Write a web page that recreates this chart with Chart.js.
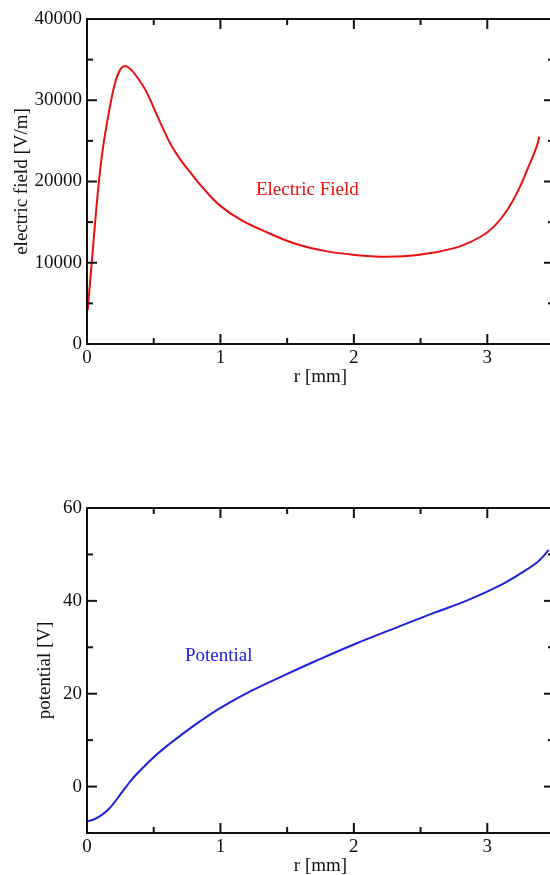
<!DOCTYPE html>
<html><head><meta charset="utf-8">
<script src="https://cdn.jsdelivr.net/npm/chart.js@4.4.1/dist/chart.umd.min.js"></script>
<style>
html,body{margin:0;padding:0;overflow:hidden;background:#fff;width:550px;height:875px;position:relative;}
#c1{position:absolute;left:0;top:0;}
#c2{position:absolute;left:0;top:450px;}
</style></head><body>
<canvas id="c1" width="560" height="400"></canvas>
<canvas id="c2" width="560" height="440"></canvas>
<script>
// ---- data ----
const rField = [0.005,0.035,0.06,0.09,0.12,0.165,0.21,0.25,0.285,0.32,0.36,0.43,0.47,0.51,0.57,0.63,0.7,0.78,0.88,1.0,1.15,1.3,1.55,1.8,2.05,2.2,2.4,2.6,2.8,2.95,3.05,3.15,3.245,3.32,3.37,3.39];
const eField = [4200,9900,14800,20100,24200,28600,32100,33800,34200,33900,33200,31500,30200,28700,26500,24500,22700,21000,19000,17000,15300,14100,12400,11400,10900,10750,10830,11250,12050,13200,14450,16500,19350,22250,24300,25500];
const rPotential = [0.0,0.05,0.1,0.15,0.2,0.25,0.3,0.35,0.42,0.51,0.61,0.71,0.86,1.01,1.23,1.48,1.71,2.0,2.35,2.6,2.85,3.1,3.25,3.37,3.43,3.46];
const potential = [-7.5,-7.1,-6.3,-5.2,-3.6,-1.7,0.2,2.0,4.1,6.6,9.0,11.2,14.3,17.1,20.6,24.0,27.0,30.6,34.6,37.4,40.1,43.4,45.9,48.2,49.9,51.0];
const xRange = [0, 3.5], xStep = 0.5, xMajor = 1;
const fieldRange = [0, 40000], fieldStep = 5000, fieldMajor = 10000;
const potRange = [-10, 60], potStep = 10, potMajor = 20;
const fieldLabel = {text: 'Electric Field', r: 1.266, v: 19000};
const potLabel = {text: 'Potential', r: 0.734, v: 28.2};

const FONT = "'Liberation Serif','Times New Roman',serif";
const RED = 'rgb(232,16,16)';
const BLUE = 'rgb(32,32,222)';
const isMult = (v, m) => Math.abs(v / m - Math.round(v / m)) < 1e-6;

const frameTicks = {
  id: 'frameTicks',
  afterDatasetsDraw(chart, args, opts) {
    const {ctx, chartArea: a, scales: {x, y}} = chart;
    ctx.save();
    ctx.strokeStyle = '#111';
    ctx.lineWidth = 2;
    const line = (x1, y1, x2, y2) => { ctx.beginPath(); ctx.moveTo(x1, y1); ctx.lineTo(x2, y2); ctx.stroke(); };
    x.ticks.forEach(t => {
      const px = x.getPixelForValue(t.value);
      const L = isMult(t.value, opts.xMajor) ? 10 : 6;
      line(px, a.bottom, px, a.bottom - L);
      line(px, a.top, px, a.top + L);
    });
    y.ticks.forEach(t => {
      const py = y.getPixelForValue(t.value);
      const L = isMult(t.value, opts.yMajor) ? 10 : 6;
      line(a.left, py, a.left + L, py);
      line(a.right, py, a.right - L, py);
    });
    ctx.strokeRect(a.left, a.top, a.right - a.left, a.bottom - a.top);
    // annotation text
    ctx.fillStyle = opts.labelColor;
    ctx.font = '19px ' + FONT;
    ctx.textAlign = 'left';
    ctx.textBaseline = 'middle';
    ctx.fillText(opts.label.text, x.getPixelForValue(opts.label.r), y.getPixelForValue(opts.label.v));
    ctx.restore();
  }
};

function makeChart(id, cfg) {
  const pts = cfg.xs.map((xv, i) => ({x: xv, y: cfg.ys[i]}));
  return new Chart(document.getElementById(id), {
    type: 'line',
    data: {datasets: [{data: pts, borderColor: cfg.color, borderWidth: 2, pointRadius: 0, tension: 0.4, fill: false}]},
    options: {
      responsive: false, animation: false, events: [],
      layout: {padding: {top: cfg.padTop, right: 6, left: 0, bottom: 0}},
      plugins: {legend: {display: false}, tooltip: {enabled: false},
        frameTicks: {xMajor: xMajor, yMajor: cfg.yMajor, label: cfg.label, labelColor: cfg.color}},
      scales: {
        x: {type: 'linear', min: xRange[0], max: xRange[1],
          ticks: {stepSize: xStep, autoSkip: false, maxRotation: 0, padding: 3, color: '#111', font: {family: FONT, size: 19},
            callback: v => isMult(v, xMajor) ? String(v) : ''},
          grid: {display: false, drawTicks: false}, border: {display: false},
          title: {display: true, text: 'r [mm]', color: '#111', font: {family: FONT, size: 19}, padding: {top: 0, bottom: cfg.xTitlePad}},
          afterFit: s => { s.height = cfg.xHeight; }},
        y: {type: 'linear', min: cfg.yRange[0], max: cfg.yRange[1],
          ticks: {stepSize: cfg.yStep, autoSkip: false, padding: 5, color: '#111', font: {family: FONT, size: 19},
            callback: v => isMult(v, cfg.yMajor) ? String(v) : ''},
          grid: {display: false, drawTicks: false}, border: {display: false},
          title: {display: true, text: cfg.yTitle, color: '#111', font: {family: FONT, size: 19}, padding: {top: cfg.yTitlePad, bottom: 0}},
          afterFit: s => { s.width = 87; }}
      }
    },
    plugins: [frameTicks]
  });
}

makeChart('c1', {xs: rField, ys: eField, color: RED, yRange: fieldRange, yStep: fieldStep, yMajor: fieldMajor,
  yTitle: 'electric field [V/m]', yTitlePad: 10.5, padTop: 19, xHeight: 56, xTitlePad: 11.6, label: fieldLabel});
makeChart('c2', {xs: rPotential, ys: potential, color: BLUE, yRange: potRange, yStep: potStep, yMajor: potMajor,
  yTitle: 'potential [V]', yTitlePad: 34, padTop: 58, xHeight: 57, xTitlePad: 13, label: potLabel});
</script>
</body></html>
